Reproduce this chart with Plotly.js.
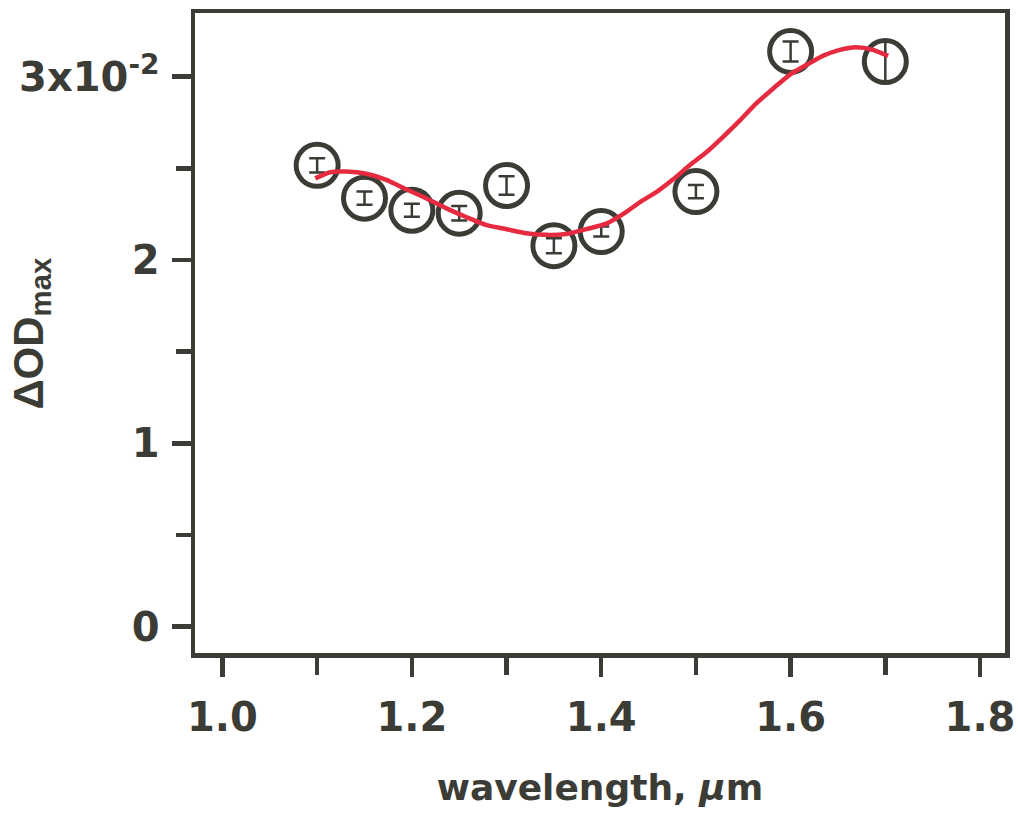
<!DOCTYPE html>
<html>
<head>
<meta charset="utf-8">
<script src="https://cdn.plot.ly/plotly-3.0.1.min.js"></script>
<style>
  html, body { margin: 0; padding: 0; background: #ffffff; }
  #chart { width: 1018px; height: 817px; }
</style>
</head>
<body>
<div id="chart"></div>
<script>
// Measured points (wavelength in µm, ΔODmax in units of 1e-2)
var wavelength = [1.10, 1.15, 1.20, 1.25, 1.30, 1.35, 1.40, 1.50, 1.60, 1.70];
var dODmax     = [2.516, 2.337, 2.271, 2.255, 2.406, 2.078, 2.155, 2.373, 3.137, 3.082];
var dODerr     = [0.039, 0.036, 0.035, 0.040, 0.050, 0.041, 0.027, 0.036, 0.055, 0.109];

// Fitted curve
var fitX = [1.098, 1.113, 1.131, 1.152, 1.173, 1.194, 1.215, 1.236, 1.258, 1.279, 1.300,
            1.321, 1.342, 1.363, 1.384, 1.406, 1.427, 1.441, 1.459, 1.476, 1.494, 1.512,
            1.529, 1.547, 1.564, 1.582, 1.599, 1.617, 1.634, 1.652, 1.669, 1.687, 1.703];
var fitY = [2.445, 2.477, 2.482, 2.470, 2.437, 2.386, 2.337, 2.283, 2.233, 2.190, 2.168,
            2.146, 2.137, 2.142, 2.168, 2.200, 2.264, 2.316, 2.373, 2.440, 2.519, 2.592,
            2.673, 2.764, 2.855, 2.937, 3.010, 3.064, 3.113, 3.146, 3.160, 3.146, 3.113];

// Tick labels
var yTickVals = [0, 1, 2, 3];
var yTickText = ['0', '1', '2', '3x10<sup>-2</sup>'];
var xTickVals = [1.0, 1.2, 1.4, 1.6, 1.8];
var xTickText = ['1.0', '1.2', '1.4', '1.6', '1.8'];

var ink = '#3c3c36';
var red = '#e62b40';
var tickFont = {family: 'DejaVu Sans', size: 40, color: ink, weight: 'bold'};

var nCap = wavelength.length - 1;

var traces = [
  { // error bars with caps
    x: wavelength.slice(0, nCap), y: dODmax.slice(0, nCap),
    type: 'scatter', mode: 'markers',
    marker: {size: 1, color: 'rgba(0,0,0,0)'},
    error_y: {type: 'data', array: dODerr.slice(0, nCap), visible: true,
              color: ink, thickness: 2.5, width: 8},
    hoverinfo: 'skip', showlegend: false
  },
  { // last error bar without caps
    x: wavelength.slice(nCap), y: dODmax.slice(nCap),
    type: 'scatter', mode: 'markers',
    marker: {size: 1, color: 'rgba(0,0,0,0)'},
    error_y: {type: 'data', array: dODerr.slice(nCap), visible: true,
              color: ink, thickness: 2.5, width: 0},
    hoverinfo: 'skip', showlegend: false
  },
  { // open circles
    x: wavelength, y: dODmax,
    type: 'scatter', mode: 'markers',
    marker: {symbol: 'circle', size: 42, color: 'rgba(0,0,0,0)',
             line: {color: ink, width: 5}},
    showlegend: false
  },
  { // fit curve
    x: fitX, y: fitY,
    type: 'scatter', mode: 'lines',
    line: {color: red, width: 4.5, shape: 'spline', smoothing: 0.6},
    showlegend: false
  }
];

var layout = {
  width: 1018, height: 817,
  margin: {l: 195, r: 13, t: 13, b: 164},
  paper_bgcolor: '#ffffff',
  plot_bgcolor: '#ffffff',
  showlegend: false,
  xaxis: {
    range: [0.9710, 1.8264],
    tickmode: 'array', tickvals: xTickVals, ticktext: xTickText,
    ticks: 'outside', ticklen: 19, tickwidth: 4.5, tickcolor: ink,
    minor: {dtick: 0.1, tick0: 1.0, ticks: 'outside', ticklen: 17, tickwidth: 4.5, tickcolor: ink, showgrid: false},
    showline: true, linecolor: ink, linewidth: 4.5, mirror: true,
    showgrid: false, zeroline: false,
    tickfont: tickFont,
    ticklabelstandoff: 6,
    title: {text: 'wavelength, <i>μ</i>m',
            font: {family: 'DejaVu Sans', size: 36, color: ink, weight: 'bold'},
            standoff: 38}
  },
  yaxis: {
    range: [-0.1435, 3.347],
    tickmode: 'array', tickvals: yTickVals, ticktext: yTickText,
    ticks: 'outside', ticklen: 19, tickwidth: 4.5, tickcolor: ink,
    minor: {dtick: 0.5, tick0: 0, ticks: 'outside', ticklen: 15, tickwidth: 4.5, tickcolor: ink, showgrid: false},
    showline: true, linecolor: ink, linewidth: 4.5, mirror: true,
    showgrid: false, zeroline: false,
    tickfont: tickFont,
    ticklabelstandoff: 4
  },
  annotations: [{
    text: 'ΔOD<sub>max</sub>',
    xref: 'paper', yref: 'paper',
    x: -0.203, y: 0.5, xanchor: 'center', yanchor: 'middle',
    textangle: -90, showarrow: false,
    font: {family: 'Liberation Sans', size: 42, color: ink, weight: 'bold'}
  }]
};

Plotly.newPlot('chart', traces, layout, {displayModeBar: false, staticPlot: true});
</script>
</body>
</html>
